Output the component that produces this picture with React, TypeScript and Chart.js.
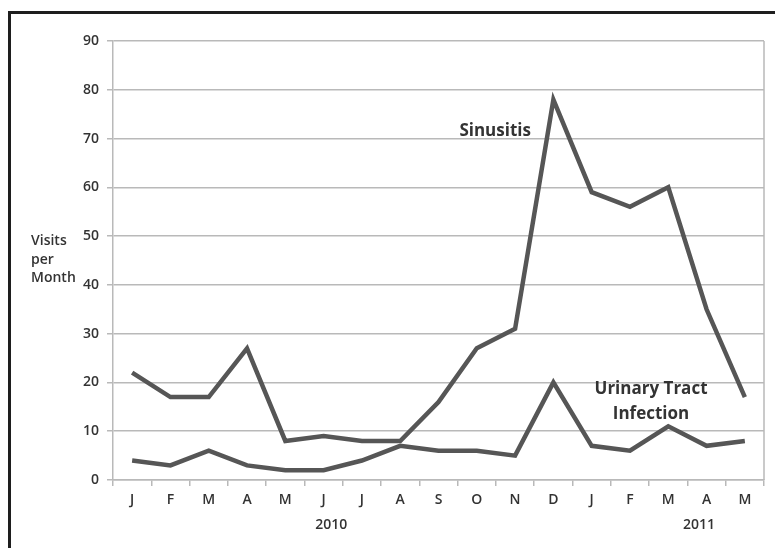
import React, { useEffect, useRef } from "react";
import { Chart, registerables } from "chart.js";

Chart.register(...registerables);

const months = ["J", "F", "M", "A", "M", "J", "J", "A", "S", "O", "N", "D", "J", "F", "M", "A", "M"];
const sinusitis = [22, 17, 17, 27, 8, 9, 8, 8, 16, 27, 31, 78, 59, 56, 60, 35, 17];
const uti = [4, 3, 6, 3, 2, 2, 4, 7, 6, 6, 5, 20, 7, 6, 11, 7, 8];
const yMin = 0;
const yMax = 90;
const yStep = 10;
const years = ["2010", "2011"];
const yearIndex = [5.2, 14.8];
const seriesNames = ["Sinusitis", "Urinary Tract Infection"];
const axisTitleLines = ["Visits", "per", "Month"];

const FONT = "'Open Sans', Lato, sans-serif";
const TEXT = "#333333";
const GRID = "#b9b9b9";
const LINE = "#565656";

const annotations = {
  id: "annotations",
  afterDraw(chart: any) {
    const { ctx, chartArea, scales } = chart;
    const x = scales.x;
    const y = scales.y;
    ctx.save();
    // right frame line of plot area
    ctx.strokeStyle = GRID;
    ctx.lineWidth = 1.5;
    ctx.beginPath();
    ctx.moveTo(chartArea.right, chartArea.top);
    ctx.lineTo(chartArea.right, chartArea.bottom);
    ctx.stroke();

    ctx.fillStyle = TEXT;
    ctx.textBaseline = "middle";
    // axis title
    ctx.font = `600 14px ${FONT}`;
    ctx.textAlign = "left";
    axisTitleLines.forEach((t, i) => {
      ctx.fillText(t, chartArea.left - 82, y.getPixelForValue(50) + 5 + i * 18.5);
    });
    // years
    ctx.textAlign = "center";
    years.forEach((t, i) => {
      ctx.fillText(t, x.getPixelForValue(yearIndex[i]), chartArea.bottom + 45);
    });
    // series labels
    ctx.font = `bold 17px ${FONT}`;
    ctx.fillText(seriesNames[0], x.getPixelForValue(9.48), y.getPixelForValue(71.5));
    const words = seriesNames[1].split(" ");
    ctx.fillText(words.slice(0, 2).join(" "), x.getPixelForValue(13.55), y.getPixelForValue(18.7));
    ctx.fillText(words.slice(2).join(" "), x.getPixelForValue(13.55), y.getPixelForValue(13.5));
    ctx.restore();
  },
};

export default function App() {
  const ref = useRef<HTMLCanvasElement | null>(null);
  useEffect(() => {
    if (!ref.current) return;
    const chart = new Chart(ref.current, {
      type: "line",
      data: {
        labels: months,
        datasets: [
          {
            label: seriesNames[0],
            data: sinusitis,
            borderColor: LINE,
            borderWidth: 4.5,
            pointRadius: 0,
            tension: 0,
            fill: false,
          },
          {
            label: seriesNames[1],
            data: uti,
            borderColor: LINE,
            borderWidth: 4.5,
            pointRadius: 0,
            tension: 0,
            fill: false,
          },
        ],
      },
      options: {
        responsive: false,
        animation: false,
        layout: { padding: { left: 0, right: 11, top: 41, bottom: 0 } },
        plugins: { legend: { display: false }, tooltip: { enabled: false } },
        scales: {
          x: {
            offset: true,
            afterFit: (s: any) => {
              s.height = 68;
            },
            grid: {
              offset: true,
              drawOnChartArea: false,
              drawTicks: true,
              tickLength: 6,
              color: GRID,
              lineWidth: 1.5,
            },
            border: { color: GRID, width: 1.5 },
            ticks: {
              color: TEXT,
              font: { family: FONT, size: 14, weight: "600" },
              padding: 6,
              maxRotation: 0,
              autoSkip: false,
            },
          },
          y: {
            min: yMin,
            max: yMax,
            afterFit: (s: any) => {
              s.width = 113;
            },
            grid: { color: GRID, lineWidth: 1.5, tickLength: 6 },
            border: { color: GRID, width: 1.5 },
            ticks: {
              stepSize: yStep,
              color: TEXT,
              font: { family: FONT, size: 14, weight: "600" },
              padding: 8,
            },
          },
        },
      },
      plugins: [annotations],
    });
    return () => chart.destroy();
  }, []);
  return (
    <div style={{ position: "fixed", left: 0, top: 0, width: 775, height: 548, background: "#fff", overflow: "hidden" }}>
      <canvas ref={ref} width={775} height={548} style={{ position: "absolute", left: 0, top: 0 }} />
      <div
        style={{
          position: "absolute",
          left: 8,
          top: 11,
          width: 800,
          height: 600,
          borderLeft: "3px solid #1e1e1e",
          borderTop: "3px solid #1e1e1e",
          pointerEvents: "none",
        }}
      />
    </div>
  );
}
